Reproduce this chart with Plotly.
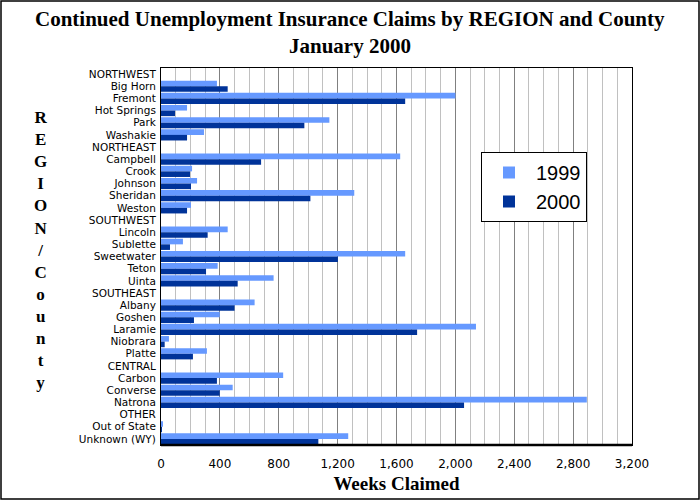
import plotly.graph_objects as go

categories = ["NORTHWEST", "Big Horn", "Fremont", "Hot Springs", "Park", "Washakie",
              "NORTHEAST", "Campbell", "Crook", "Johnson", "Sheridan", "Weston",
              "SOUTHWEST", "Lincoln", "Sublette", "Sweetwater", "Teton", "Uinta",
              "SOUTHEAST", "Albany", "Goshen", "Laramie", "Niobrara", "Platte",
              "CENTRAL", "Carbon", "Converse", "Natrona",
              "OTHER", "Out of State", "Unknown (WY)"]

claims_1999 = [None, 380, 2000, 177, 1144, 292,
               None, 1625, 211, 245, 1313, 204,
               None, 453, 149, 1659, 385, 765,
               None, 636, 399, 2140, 54, 312,
               None, 830, 487, 2893,
               None, 11, 1272]

claims_2000 = [None, 453, 1659, 95, 974, 177,
               None, 680, 197, 204, 1015, 177,
               None, 317, 61, 1202, 306, 521,
               None, 500, 224, 1740, 25, 217,
               None, 380, 399, 2059,
               None, 3, 1069]

x_ticks = list(range(0, 3201, 400))

W, H = 700, 500
L, R, T, B = 161, 68, 68, 55
pw, ph = W - L - R, H - T - B

def px_x(p):
    return (p - L) / pw

def px_y(p):
    return (H - B - p) / ph

fig = go.Figure()
fig.add_trace(go.Bar(y=categories, x=claims_1999, name="1999", orientation="h",
                     marker=dict(color="#6699FF", line=dict(width=0))))
fig.add_trace(go.Bar(y=categories, x=claims_2000, name="2000", orientation="h",
                     marker=dict(color="#003399", line=dict(width=0))))

fig.update_layout(
    width=W, height=H,
    margin=dict(l=L, r=R, t=T, b=B, autoexpand=False),
    paper_bgcolor="white", plot_bgcolor="white",
    barmode="group", bargap=0.08, bargroupgap=0,
    showlegend=True,
    legend=dict(x=px_x(481), y=px_y(152), xanchor="left", yanchor="top",
                bordercolor="black", borderwidth=1, bgcolor="white",
                font=dict(family="Liberation Sans", size=20, color="black"),
                itemwidth=44, tracegroupgap=0),
    font=dict(family="DejaVu Sans", color="black"),
)

fig.update_xaxes(range=[0, 3200], tickvals=x_ticks, tickformat=",", automargin=False,
                 tickfont=dict(family="DejaVu Sans", size=12, color="black"),
                 showgrid=True, gridcolor="#808080", gridwidth=1,
                 minor=dict(dtick=100, showgrid=True, gridcolor="#c0c0c0", gridwidth=1),
                 showline=True, linecolor="black", linewidth=1, mirror=True,
                 zeroline=False, ticks="", ticklen=0, ticklabelstandoff=8,
                 title=dict(text="<b>Weeks Claimed</b>", standoff=6,
                            font=dict(family="Liberation Serif", size=19, color="black")))

fig.update_yaxes(autorange="reversed", type="category", automargin=False,
                 tickmode="array", tickvals=categories, ticktext=categories,
                 tickfont=dict(family="DejaVu Sans", size=10.5, color="black"),
                 showline=True, linecolor="black", linewidth=1, mirror=True,
                 showgrid=False, ticks="", ticklabelstandoff=2)

# Thicker bottom axis line
fig.add_shape(type="line", xref="paper", yref="paper", x0=0, x1=1, y0=0, y1=0,
              line=dict(color="black", width=2.5))

# Outer border of the figure
fig.add_shape(type="rect", xref="paper", yref="paper",
              x0=px_x(1), x1=px_x(W - 1), y0=px_y(H - 1), y1=px_y(1),
              line=dict(color="black", width=1.5))

fig.add_annotation(text="<b>Continued Unemployment Insurance Claims by REGION and County</b>",
                   xref="paper", yref="paper", x=px_x(350), y=px_y(19),
                   xanchor="center", yanchor="middle", showarrow=False,
                   font=dict(family="Liberation Serif", size=21, color="black"))
fig.add_annotation(text="<b>January 2000</b>",
                   xref="paper", yref="paper", x=px_x(350), y=px_y(46),
                   xanchor="center", yanchor="middle", showarrow=False,
                   font=dict(family="Liberation Serif", size=21, color="black"))

ylabel = "<br>".join(list("REGION/County"))
fig.add_annotation(text="<b>" + ylabel + "</b>",
                   xref="paper", yref="paper", x=px_x(40), y=px_y(250),
                   xanchor="center", yanchor="middle", showarrow=False,
                   font=dict(family="Liberation Serif", size=17, color="black"))

fig.write_html("out.html", config={"displayModeBar": False},
               post_script="document.body.style.margin='0';document.body.style.padding='0';")
